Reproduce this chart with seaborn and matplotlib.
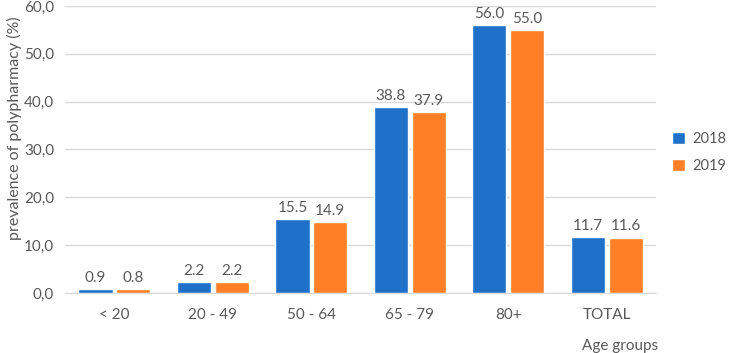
import matplotlib
matplotlib.use("Agg")
import matplotlib.pyplot as plt
import seaborn as sns
import pandas as pd
from matplotlib.ticker import FuncFormatter

categories = ["< 20", "20 - 49", "50 - 64", "65 - 79", "80+", "TOTAL"]
years = ["2018", "2019"]
values_2018 = [0.9, 2.2, 15.5, 38.8, 56.0, 11.7]
values_2019 = [0.8, 2.2, 14.9, 37.9, 55.0, 11.6]
yticks = [0, 10, 20, 30, 40, 50, 60]

df = pd.DataFrame({
    "cat": categories * 2,
    "year": [years[0]] * len(categories) + [years[1]] * len(categories),
    "val": values_2018 + values_2019,
})

sns.set_style("white")
plt.rcParams["font.family"] = ["Lato", "DejaVu Sans"]
txt = "#595959"

fig = plt.figure(figsize=(7.33, 3.53), dpi=100)
ax = fig.add_axes([0.089, 0.17, 0.806, 0.813])
sns.barplot(data=df, x="cat", y="val", hue="year", order=categories,
            hue_order=years, palette=["#1F70C8", "#FF7F27"], width=0.77,
            gap=0.1, ax=ax, saturation=1, legend=True)

for cont in ax.containers:
    ax.bar_label(cont, fmt="%.1f", padding=3, fontsize=11, color=txt)

ax.set_ylim(0, 60)
ax.set_yticks(yticks)
ax.yaxis.set_major_formatter(FuncFormatter(lambda v, p: f"{v:.1f}".replace(".", ",")))
ax.grid(axis="y", color="#d9d9d9", linewidth=1)
ax.set_axisbelow(True)
for s in ["top", "right", "left"]:
    ax.spines[s].set_visible(False)
ax.spines["bottom"].set_color("#d9d9d9")
ax.tick_params(axis="both", length=0, labelsize=11, colors=txt)
ax.tick_params(axis="x", pad=11)
ax.tick_params(axis="y", pad=8)
ax.set_ylabel("prevalence of polypharmacy (%)", fontsize=11.5, color=txt)
ax.yaxis.set_label_coords(-0.073, 0.575)
ax.set_xlabel("")
fig.text(0.846, 0.02, "Age groups", fontsize=11, color=txt, ha="center", va="center")

leg = ax.legend(loc="center left", bbox_to_anchor=(1.01, 0.49), frameon=False,
                fontsize=10.5, handlelength=0.9, handleheight=0.9,
                labelspacing=0.85, handletextpad=0.5, borderaxespad=0.3,
                labelcolor=txt)

fig.savefig("out.png", dpi=100)
